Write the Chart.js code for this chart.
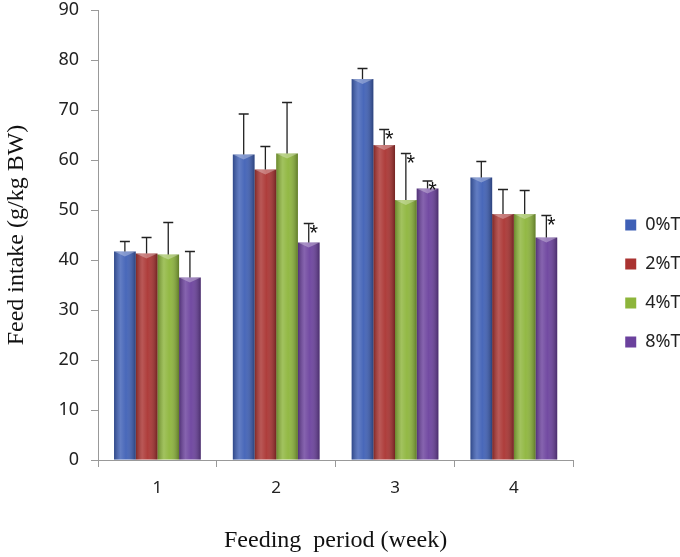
<!DOCTYPE html>
<html>
<head>
<meta charset="utf-8">
<script src="https://cdn.jsdelivr.net/npm/chart.js@4.4.1/dist/chart.umd.min.js"></script>
<style>
  html, body { margin: 0; padding: 0; background: #fff; }
</style>
</head>
<body>
<canvas id="feedChart" width="680" height="557"></canvas>
<script>
// Feed intake per week, 4 treatment groups (mean + SD, upward error bars only)
const weeks = ['1', '2', '3', '4'];
const groups = ['0%T', '2%T', '4%T', '8%T'];

const mean0 = [41.7, 61.1, 76.2, 56.5];
const mean2 = [41.3, 58.1, 63.0, 49.2];
const mean4 = [41.1, 61.3, 52.0, 49.2];
const mean8 = [36.5, 43.5, 54.3, 44.5];

const sd0 = [2.0, 8.1, 2.1, 3.2];
const sd2 = [3.2, 4.6, 3.1, 4.9];
const sd4 = [6.4, 10.2, 9.3, 4.7];
const sd8 = [5.2, 3.8, 1.5, 4.4];

// 1 = marked with an asterisk
const sig0 = [0, 0, 0, 0];
const sig2 = [0, 0, 1, 0];
const sig4 = [0, 0, 1, 0];
const sig8 = [0, 1, 1, 1];

const yTicks = [0, 10, 20, 30, 40, 50, 60, 70, 80, 90];

const colors = ['#3f60b6', '#aa3331', '#8db53b', '#6b419d'];

const means = [mean0, mean2, mean4, mean8];
const sds = [sd0, sd2, sd4, sd8];
const sigs = [sig0, sig2, sig4, sig8];

// Cylinder-ish shading on top of each bar
const shadePlugin = {
    id: 'shade',
    afterDatasetsDraw(chart) {
        const ctx = chart.ctx;
        chart.data.datasets.forEach((ds, i) => {
            chart.getDatasetMeta(i).data.forEach(bar => {
                const left = bar.x - bar.width / 2;
                const w = bar.width;
                const h = bar.base - bar.y;
                const g = ctx.createLinearGradient(left, 0, left + w, 0);
                g.addColorStop(0, 'rgba(0,0,0,0.25)');
                g.addColorStop(0.3, 'rgba(255,255,255,0.18)');
                g.addColorStop(0.55, 'rgba(255,255,255,0.05)');
                g.addColorStop(1, 'rgba(0,0,0,0.32)');
                ctx.save();
                ctx.fillStyle = g;
                ctx.fillRect(left, bar.y, w, h);
                // lighter top edge
                ctx.fillStyle = 'rgba(255,255,255,0.3)';
                ctx.beginPath();
                ctx.moveTo(left, bar.y);
                ctx.lineTo(left + w, bar.y);
                ctx.lineTo(left + w / 2, bar.y + 5);
                ctx.closePath();
                ctx.fill();
                ctx.restore();
            });
        });
    }
};

// Error bars (upward) and asterisks
const errorPlugin = {
    id: 'errorBars',
    afterDatasetsDraw(chart) {
        const ctx = chart.ctx;
        const yScale = chart.scales.y;
        ctx.save();
        ctx.strokeStyle = '#222';
        ctx.lineWidth = 1.3;
        ctx.fillStyle = '#111';
        ctx.font = '22px "Liberation Sans"';
        ctx.textAlign = 'center';
        ctx.textBaseline = 'alphabetic';
        chart.data.datasets.forEach((ds, i) => {
            chart.getDatasetMeta(i).data.forEach((bar, j) => {
                const top = yScale.getPixelForValue(means[i][j] + sds[i][j]);
                ctx.beginPath();
                ctx.moveTo(bar.x, bar.y);
                ctx.lineTo(bar.x, top);
                ctx.moveTo(bar.x - 5, top);
                ctx.lineTo(bar.x + 5, top);
                ctx.stroke();
                if (sigs[i][j]) {
                    ctx.fillText('*', bar.x + 5, top + 16);
                }
            });
        });
        ctx.restore();
    }
};

new Chart(document.getElementById('feedChart'), {
    type: 'bar',
    data: {
        labels: weeks,
        datasets: groups.map((g, i) => ({
            label: g,
            data: means[i],
            backgroundColor: colors[i],
            borderWidth: 0,
            categoryPercentage: 0.73,
            barPercentage: 1.0
        }))
    },
    options: {
        responsive: false,
        animation: false,
        layout: { padding: { top: 10, left: 0, right: -10.5, bottom: 0 } },
        plugins: {
            tooltip: { enabled: false },
            legend: {
                position: 'right',
                labels: {
                    boxWidth: 11,
                    boxHeight: 11,
                    padding: 21,
                    color: '#222',
                    font: { family: '"Noto Sans"', size: 18 }
                }
            }
        },
        scales: {
            x: {
                grid: {
                    display: true,
                    drawOnChartArea: false,
                    drawTicks: true,
                    tickLength: 7,
                    color: '#999'
                },
                border: { color: '#999' },
                ticks: {
                    color: '#222',
                    padding: 11,
                    font: { family: '"Noto Sans"', size: 17 }
                },
                title: {
                    display: true,
                    text: 'Feeding  period (week)',
                    color: '#111',
                    padding: { top: 20, bottom: 2 },
                    font: { family: '"Liberation Serif"', size: 24 }
                },
                afterFit(scale) {
                    scale.height = 97;
                    scale.paddingLeft = 0;
                    scale.paddingRight = 0;
                }
            },
            y: {
                min: 0,
                max: 90,
                afterBuildTicks(scale) {
                    scale.ticks = yTicks.map(v => ({ value: v }));
                },
                grid: {
                    display: true,
                    drawOnChartArea: false,
                    drawTicks: true,
                    tickLength: 7,
                    color: '#999'
                },
                border: { color: '#999' },
                ticks: {
                    color: '#222',
                    padding: 12,
                    font: { family: '"Noto Sans"', size: 18 }
                },
                title: {
                    display: true,
                    text: 'Feed intake (g/kg BW)',
                    color: '#111',
                    padding: { top: 2, bottom: 6 },
                    font: { family: '"Liberation Serif"', size: 24 }
                },
                afterFit(scale) {
                    scale.width = 98;
                    scale.paddingTop = 0;
                    scale.paddingBottom = 0;
                }
            },
            // empty spacer between the plot and the legend
            spacer: {
                type: 'linear',
                position: 'right',
                display: true,
                grid: { display: false },
                border: { display: false },
                ticks: { display: false },
                afterFit(scale) {
                    scale.width = 31;
                    scale.paddingTop = 0;
                    scale.paddingBottom = 0;
                }
            }
        }
    },
    plugins: [shadePlugin, errorPlugin]
});
</script>
</body>
</html>
